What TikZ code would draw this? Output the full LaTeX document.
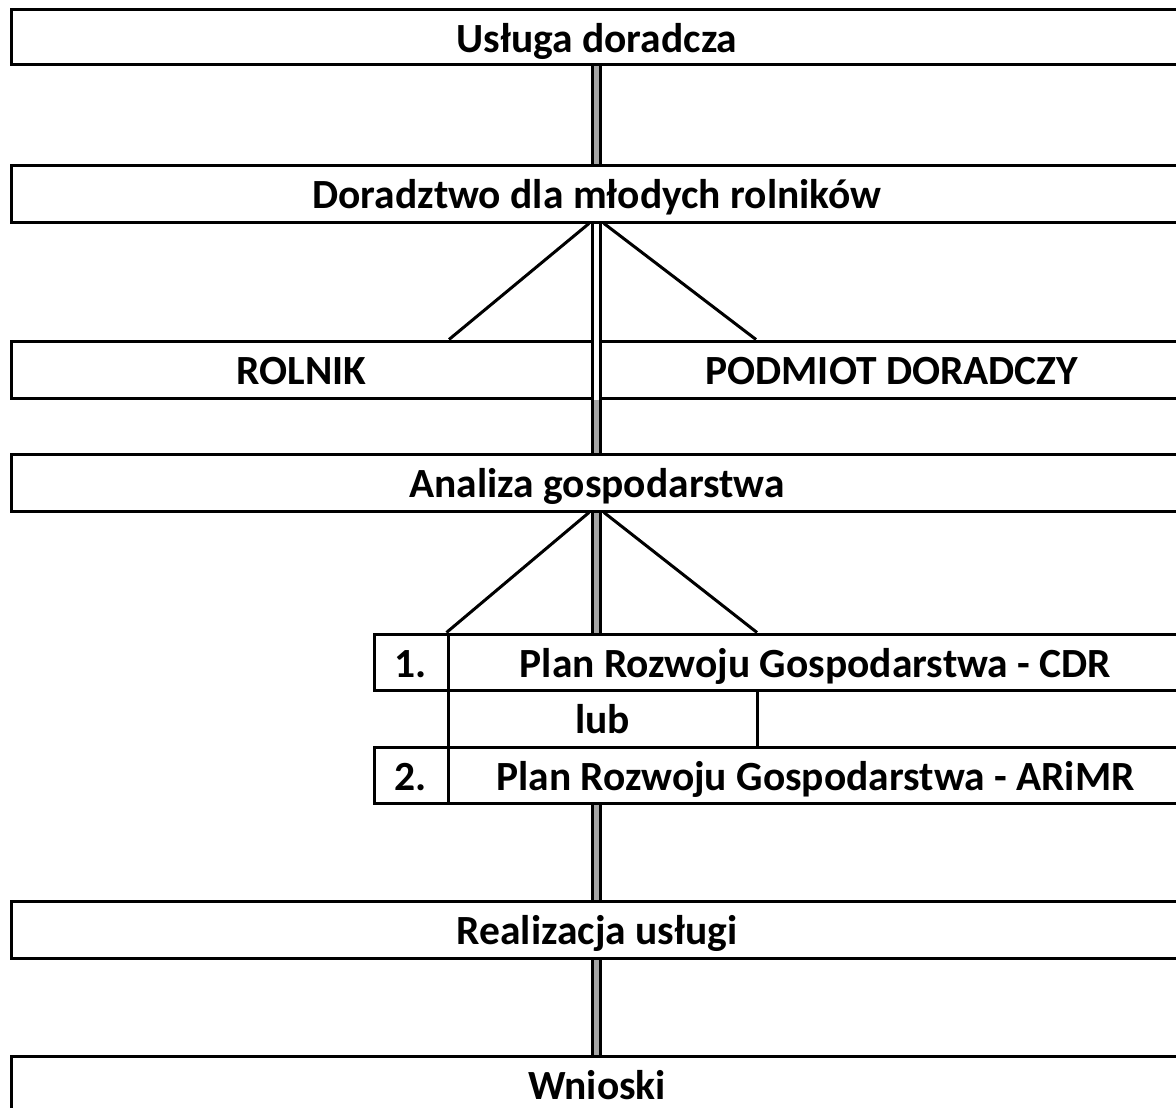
\documentclass[tikz,border=0pt]{standalone}
\usepackage{fontspec}
\setmainfont{Carlito}
\usetikzlibrary{backgrounds}
\definecolor{midgray}{RGB}{166,166,166}
\begin{document}
\begin{tikzpicture}[x=1pt,y=-1pt,
  cellbox/.style={draw, line width=3pt, inner sep=0pt,
    font=\fontsize{41.5}{45}\selectfont\bfseries, text height=32pt, text depth=2pt},
  dbl/.style={line width=3pt, double distance=5pt, double=midgray},
  diag/.style={line width=3pt}]
\useasboundingbox (0,0) rectangle (1176,1108);
\clip (0,0) rectangle (1176,1108);
\coordinate (axis) at (596.5,0);
\node[cellbox, minimum width=1172pt, minimum height=55pt] (box1) at (597,37.5) {Usługa doradcza};
\node[cellbox, minimum width=1172pt, minimum height=57pt] (box2) at (597,193.5) {Doradztwo dla młodych rolników};
\node[cellbox, minimum width=581.5pt, minimum height=57pt] (rolnik) at (301.75,369.5) {ROLNIK};
\node[cellbox, minimum width=582.5pt, minimum height=57pt] (podmiot) at (891.75,369.5) {PODMIOT DORADCZY};
\node[cellbox, minimum width=1172pt, minimum height=57pt] (analiza) at (597,482.5) {Analiza gospodarstwa};
\node[cellbox, minimum width=74pt, minimum height=56pt] (n1) at (411,662) {1.};
\node[cellbox, minimum width=735pt, minimum height=56pt] (plan1) at (815.5,662) {Plan Rozwoju Gospodarstwa - CDR};
\node[cellbox, minimum width=309pt, minimum height=57pt] (lub) at (602.5,718.5) {lub};
\node[cellbox, minimum width=74pt, minimum height=56pt] (n2) at (411,775) {2.};
\node[cellbox, minimum width=735pt, minimum height=56pt] (plan2) at (815.5,775) {Plan Rozwoju Gospodarstwa - ARiMR};
\node[cellbox, minimum width=1172pt, minimum height=57pt] (real) at (597,929.5) {Realizacja usługi};
\node[cellbox, minimum width=1172pt, minimum height=57pt] (wnioski) at (597,1084.5) {Wnioski};
\begin{scope}[on background layer]
% double connectors
\draw[dbl] (box1.south -| axis) -- (box2.north -| axis);
\draw[dbl, double=white] (box2.south -| axis) -- (analiza.north -| axis);
\draw[dbl] (rolnik.south -| axis) -- (analiza.north -| axis);
\draw[dbl] (analiza.south -| axis) -- (plan1.north -| axis);
\draw[dbl] (plan2.south -| axis) -- (real.north -| axis);
\draw[dbl] (real.south -| axis) -- (wnioski.north -| axis);
% diagonal connectors
\draw[diag] (box2.south -| 589,0) -- (rolnik.north -| 449,0);
\draw[diag] (box2.south -| 604,0) -- (podmiot.north -| 756,0);
\draw[diag] (analiza.south -| 589,0) -- (plan1.north west);
\draw[diag] (analiza.south -| 604,0) -- (plan1.north -| 757,0);
\end{scope}
\end{tikzpicture}
\end{document}
